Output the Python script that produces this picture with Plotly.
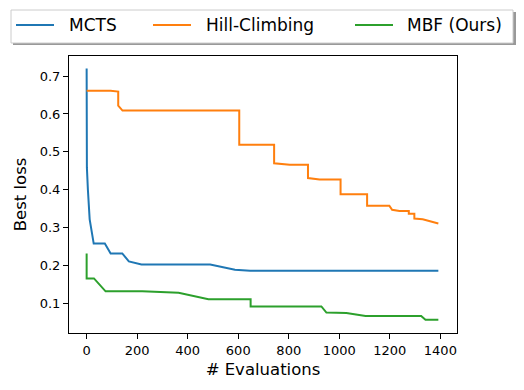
import plotly.graph_objects as go

# evaluations / best loss
mcts_x = [0, 1, 5, 12, 28, 72, 95, 141, 167, 217, 489, 587, 647, 1392]
mcts_y = [0.720, 0.459, 0.400, 0.322, 0.258, 0.258, 0.232, 0.232, 0.211, 0.203, 0.203, 0.189, 0.186, 0.186]

hill_x = [0, 95, 125, 125, 142, 604, 604, 742, 742, 804, 876, 876, 922, 1005, 1005, 1110, 1110,
          1198, 1209, 1238, 1275, 1275, 1297, 1297, 1330, 1392]
hill_y = [0.661, 0.661, 0.659, 0.622, 0.609, 0.609, 0.519, 0.519, 0.470, 0.466, 0.466, 0.431, 0.427, 0.427,
          0.388, 0.388, 0.358, 0.358, 0.347, 0.344, 0.344, 0.337, 0.337, 0.324, 0.322, 0.311]

mbf_x = [0, 0, 29, 75, 220, 364, 482, 649, 649, 929, 949, 1028, 1104, 1324, 1341, 1392]
mbf_y = [0.232, 0.166, 0.166, 0.132, 0.132, 0.128, 0.111, 0.111, 0.092, 0.092, 0.076, 0.0745, 0.067, 0.067,
         0.057, 0.057]

names = ['MCTS', 'Hill-Climbing', 'MBF (Ours)']
colors = ['#1f77b4', '#ff7f0e', '#2ca02c']

fig = go.Figure()
for xs, ys, nm, c in zip([mcts_x, hill_x, mbf_x], [mcts_y, hill_y, mbf_y], names, colors):
    fig.add_trace(go.Scatter(x=xs, y=ys, mode='lines', name=nm, showlegend=False,
                             line=dict(color=c, width=2)))

# plot area is 388 x 277 px; the matplotlib-style legend (frame, shadow, samples, labels)
# is laid out in pixels and converted to paper coords
W, H, L, T = 388.0, 277.0, 69.0, 56.0
def px(x):
    return (x - L) / W
def py(y):
    return 1 + (T - y) / H

fig.add_shape(type='rect', xref='paper', yref='paper', x0=px(13), x1=px(516), y0=py(45), y1=py(12),
              fillcolor='#999999', line_width=0, layer='above')
fig.add_shape(type='rect', xref='paper', yref='paper', x0=px(11), x1=px(513), y0=py(43), y1=py(10),
              fillcolor='white', line=dict(color='#cccccc', width=1), layer='above')

sample_x = [16, 153, 355]
text_x = [69, 206, 407]
for nm, c, sx, tx in zip(names, colors, sample_x, text_x):
    fig.add_shape(type='line', xref='paper', yref='paper', x0=px(sx), x1=px(sx + 38),
                  y0=py(25), y1=py(25), line=dict(color=c, width=2), layer='above')
    fig.add_annotation(xref='paper', yref='paper', x=px(tx), y=py(25), text=nm, showarrow=False,
                       xanchor='left', yanchor='middle', xshift=-2, font=dict(size=17))

fig.update_layout(
    width=524, height=390,
    margin=dict(l=69, r=67, t=56, b=57, autoexpand=False),
    plot_bgcolor='white', paper_bgcolor='white',
    font=dict(family='DejaVu Sans', color='black'),
    showlegend=False,
)
axis_style = dict(showline=True, mirror=True, linecolor='black', linewidth=1, ticks='outside',
                  ticklen=5, tickcolor='black', showgrid=False, zeroline=False,
                  tickfont=dict(size=13))
fig.update_xaxes(range=[-69.8, 1465.8], tickvals=[0, 200, 400, 600, 800, 1000, 1200, 1400],
                 title=dict(text='# Evaluations', font=dict(size=16.5), standoff=6), **axis_style)
fig.update_yaxes(range=[0.022, 0.753], tickvals=[0.1, 0.2, 0.3, 0.4, 0.5, 0.6, 0.7],
                 title=dict(text='Best loss', font=dict(size=16.5), standoff=8), **axis_style)

fig.write_html("out.html", config={'displayModeBar': False},
               post_script="document.body.style.margin='0';")
